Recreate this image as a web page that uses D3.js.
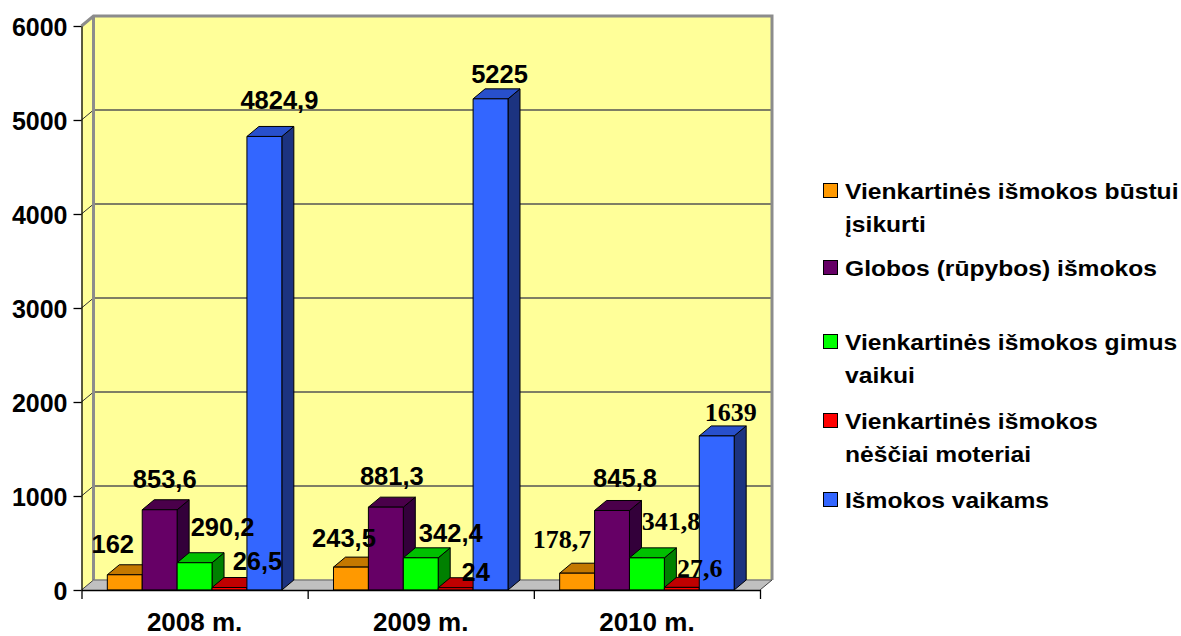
<!DOCTYPE html>
<html>
<head>
<meta charset="utf-8">
<script src="https://cdn.jsdelivr.net/npm/d3@7"></script>
<style>
  html, body { margin: 0; padding: 0; background: #fff; }
  svg { display: block; }
</style>
</head>
<body>
<svg id="chart" width="1181" height="636"></svg>
<script>
// ---------- DATA ----------
const categories = ["2008 m.", "2009 m.", "2010 m."];
const seriesNames = [
  "Vienkartinės išmokos būstui įsikurti",
  "Globos (rūpybos) išmokos",
  "Vienkartinės išmokos gimus vaikui",
  "Vienkartinės išmokos nėščiai moteriai",
  "Išmokos vaikams"
];
const bustui   = [162, 243.5, 178.7];
const globos   = [853.6, 881.3, 845.8];
const gimus    = [290.2, 342.4, 341.8];
const nesciai  = [26.5, 24, 27.6];
const vaikams  = [4824.9, 5225, 1639];
const yTicks   = [0, 1000, 2000, 3000, 4000, 5000, 6000];

// legend lines (wrapped as in the original)
const legendLines = [
  ["Vienkartinės išmokos būstui", "įsikurti"],
  ["Globos (rūpybos) išmokos"],
  ["Vienkartinės išmokos gimus", "vaikui"],
  ["Vienkartinės išmokos", "nėščiai moteriai"],
  ["Išmokos vaikams"]
];

// ---------- STYLE / LAYOUT ----------
const seriesValues = [bustui, globos, gimus, nesciai, vaikams];
const colors = [
  { front: "#ff9900", top: "#c47800", side: "#804c00" },
  { front: "#660066", top: "#4a004a", side: "#33003a" },
  { front: "#00ff00", top: "#00c000", side: "#008000" },
  { front: "#ff0000", top: "#c00000", side: "#800000" },
  { front: "#3366ff", top: "#2850cc", side: "#1c3380" }
];
// manual label nudges [dx, dy] from bar front-top centre (as placed in the original)
const labelNudge = [
  [[-12, -22], [-7, -20], [-15, -25]],
  [[5, -22], [6, -22], [13, -23]],
  [[28, -27], [30, -16], [24, -28]],
  [[28, -18], [20, -7], [18, -10]],
  [[15, -27], [9, -16], [14, -15]]
];
const serifLabel = [
  [false, false, true],
  [false, false, false],
  [false, false, true],
  [false, false, true],
  [false, false, true]
];

const DX = 12, DY = 10;
const plotLeft = 81.5, plotRight = 760, plotBottom = 590, plotTop = 26;
const sans = "'Liberation Sans', Arial, sans-serif";
const serif = "'Liberation Serif', 'Times New Roman', serif";

const svg = d3.select("#chart");

const y = d3.scaleLinear().domain([0, 6000]).range([plotBottom, plotTop]);
const x0 = d3.scaleBand().domain(categories).range([plotLeft, plotRight]).padding(0);
const x1 = d3.scaleBand().domain(d3.range(seriesNames.length))
  .range([0, x0.bandwidth()]).paddingInner(0).paddingOuter(0.74);

// ---------- WALLS & FLOOR ----------
const wallColor = "#ffff99";
const borderGrey = "#8c8c8c";
svg.append("polygon")
  .attr("points", [[plotLeft, y(6000)], [plotLeft + DX, y(6000) - DY], [plotLeft + DX, y(0) - DY], [plotLeft, y(0)]].join(" "))
  .attr("fill", wallColor);
svg.append("rect")
  .attr("x", plotLeft + DX).attr("y", y(6000) - DY)
  .attr("width", plotRight - plotLeft).attr("height", y(0) - y(6000))
  .attr("fill", wallColor);
svg.append("polygon")
  .attr("points", [[plotLeft, y(0)], [plotLeft + DX, y(0) - DY], [plotRight + DX, y(0) - DY], [plotRight, y(0)]].join(" "))
  .attr("fill", "#c0c0c0");

// gridlines
const grid = svg.append("g");
yTicks.filter(t => t > 0 && t < 6000).forEach(t => {
  grid.append("line")
    .attr("x1", plotLeft + DX).attr("x2", plotRight + DX)
    .attr("y1", y(t) - DY).attr("y2", y(t) - DY)
    .attr("stroke", "#555").attr("stroke-width", 1.7);
  grid.append("line")
    .attr("x1", plotLeft).attr("x2", plotLeft + DX)
    .attr("y1", y(t)).attr("y2", y(t) - DY)
    .attr("stroke", "#333").attr("stroke-width", 1);
});

// wall borders
const borders = svg.append("g").attr("fill", "none").attr("stroke", borderGrey).attr("stroke-width", 3);
borders.append("polyline")
  .attr("points", [[plotLeft, y(6000)], [plotLeft + DX, y(6000) - DY], [plotRight + DX, y(6000) - DY], [plotRight + DX, y(0) - DY]].join(" "))
  .attr("stroke-linejoin", "miter");
borders.append("line")
  .attr("x1", plotLeft + DX).attr("x2", plotLeft + DX)
  .attr("y1", y(6000) - DY).attr("y2", y(0) - DY);
svg.append("line")
  .attr("x1", plotLeft + DX).attr("x2", plotRight + DX)
  .attr("y1", y(0) - DY).attr("y2", y(0) - DY)
  .attr("stroke", "#808080").attr("stroke-width", 1.5);
svg.append("line")
  .attr("x1", plotRight).attr("x2", plotRight + DX)
  .attr("y1", y(0)).attr("y2", y(0) - DY)
  .attr("stroke", "#404040").attr("stroke-width", 1);
svg.append("line")
  .attr("x1", plotLeft).attr("x2", plotLeft + DX)
  .attr("y1", y(0)).attr("y2", y(0) - DY)
  .attr("stroke", "#404040").attr("stroke-width", 1);

// ---------- BARS ----------
const bars = svg.append("g");
categories.forEach((cat, ci) => {
  seriesValues.forEach((vals, si) => {
    const v = vals[ci];
    const xl = x0(cat) + x1(si);
    const w = x1.bandwidth();
    const yt = y(v), yb = y(0);
    const c = colors[si];
    const g = bars.append("g").attr("stroke", "#000").attr("stroke-width", 1).attr("stroke-linejoin", "round");
    g.append("polygon")
      .attr("points", [[xl + w, yb], [xl + w, yt], [xl + w + DX, yt - DY], [xl + w + DX, yb - DY]].join(" "))
      .attr("fill", c.side);
    g.append("polygon")
      .attr("points", [[xl, yt], [xl + DX, yt - DY], [xl + w + DX, yt - DY], [xl + w, yt]].join(" "))
      .attr("fill", c.top);
    g.append("rect")
      .attr("x", xl).attr("y", yt).attr("width", w).attr("height", yb - yt)
      .attr("fill", c.front);
  });
});

// ---------- AXES ----------
const yAxis = svg.append("g")
  .attr("transform", `translate(${plotLeft},0)`)
  .call(d3.axisLeft(y).tickValues(yTicks).tickFormat(d3.format("d"))
    .tickSize(8).tickSizeOuter(0).tickPadding(6));
yAxis.select(".domain").attr("stroke", "#000").attr("stroke-width", 1.3);
yAxis.selectAll(".tick line").attr("stroke", "#000").attr("stroke-width", 1.3);
yAxis.selectAll(".tick text")
  .attr("font-family", sans).attr("font-size", 25).attr("font-weight", "bold")
  .attr("fill", "#000").attr("dy", "0.36em");

const xb = d3.scaleLinear().domain([0, categories.length]).range([plotLeft, plotRight]);
const xAxis = svg.append("g")
  .attr("transform", `translate(0,${plotBottom})`)
  .call(d3.axisBottom(xb).tickValues(d3.range(categories.length + 1)).tickFormat("").tickSize(9).tickSizeOuter(0));
xAxis.select(".domain").attr("stroke", "#000").attr("stroke-width", 1.3);
xAxis.selectAll(".tick line").attr("stroke", "#000").attr("stroke-width", 1.3);

svg.append("g").selectAll("text").data(categories).join("text")
  .attr("x", d => x0(d) + x0.bandwidth() / 2)
  .attr("y", 631)
  .attr("text-anchor", "middle")
  .attr("font-family", sans).attr("font-size", 26).attr("font-weight", "bold")
  .text(d => d);

// ---------- VALUE LABELS ----------
const labels = svg.append("g");
categories.forEach((cat, ci) => {
  seriesValues.forEach((vals, si) => {
    const v = vals[ci];
    const cx = x0(cat) + x1(si) + x1.bandwidth() / 2;
    const [ndx, ndy] = labelNudge[si][ci];
    labels.append("text")
      .attr("x", cx + ndx)
      .attr("y", y(v) + ndy)
      .attr("text-anchor", "middle")
      .attr("font-family", serifLabel[si][ci] ? serif : sans)
      .attr("font-size", serifLabel[si][ci] ? 26 : 25.5)
      .attr("font-weight", "bold")
      .attr("fill", "#000")
      .text(String(v).replace(".", ","));
  });
});

// ---------- LEGEND ----------
const legendRowY = [199, 276, 350, 429, 508];
const legend = svg.append("g");
legendLines.forEach((lines, i) => {
  legend.append("rect")
    .attr("x", 823.5).attr("y", legendRowY[i] - 15.5)
    .attr("width", 14).attr("height", 14)
    .attr("fill", colors[i].front).attr("stroke", "#000").attr("stroke-width", 1);
  const t = legend.append("text")
    .attr("transform", "translate(845,0) scale(1.12,1)")
    .attr("font-family", sans).attr("font-size", 22).attr("font-weight", "bold")
    .attr("fill", "#000");
  lines.forEach((ln, k) => {
    t.append("tspan").attr("x", 0).attr("y", legendRowY[i] + k * 33).text(ln);
  });
});
</script>
</body>
</html>
